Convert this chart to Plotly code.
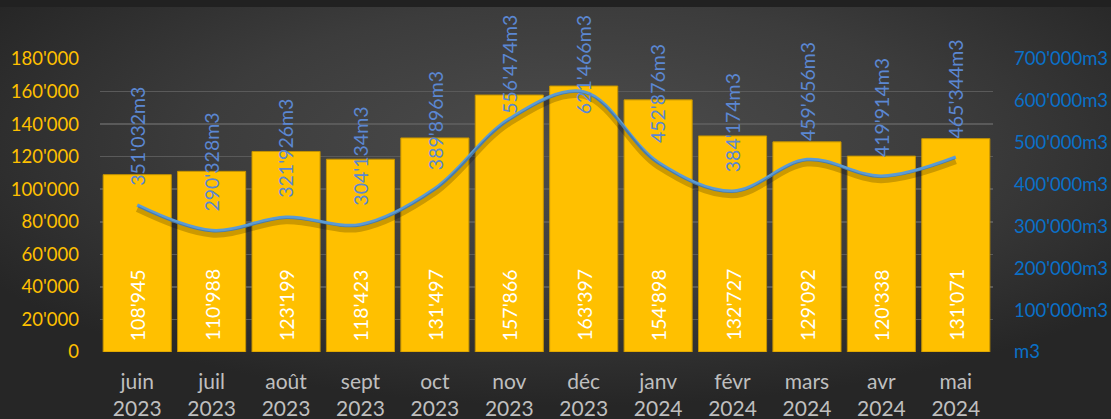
import base64
import plotly.graph_objects as go

months = ["juin<br>2023", "juil<br>2023", "août<br>2023", "sept<br>2023", "oct<br>2023", "nov<br>2023",
          "déc<br>2023", "janv<br>2024", "févr<br>2024", "mars<br>2024", "avr<br>2024", "mai<br>2024"]
bar_values = [108945, 110988, 123199, 118423, 131497, 157866, 163397, 154898, 132727, 129092, 120338, 131071]
line_values = [351032, 290328, 321926, 304134, 389896, 556474, 621466, 452876, 384174, 459656, 419914, 465344]

left_tickvals = [0, 20000, 40000, 60000, 80000, 100000, 120000, 140000, 160000, 180000]
left_ticktext = ["0", "20'000", "40'000", "60'000", "80'000", "100'000", "120'000", "140'000", "160'000", "180'000"]
right_tickvals = [0, 100000, 200000, 300000, 400000, 500000, 600000, 700000]
right_ticktext = ["m3", "100'000m3", "200'000m3", "300'000m3", "400'000m3", "500'000m3", "600'000m3", "700'000m3"]


def fmt(v):
    return f"{v:,}".replace(",", "'")


W, H = 1111, 419
ML, MR, MT, MB = 100, 118, 59, 67
PW, PH = W - ML - MR, H - MT - MB
Y2MAX = 700000
FONT = "Lato"
TOP_CLIP = 13          # chart area top (px) where Excel keeps labels inside
LABEL_LEN = 102        # approx rotated label length (px)
LABEL_GAP = 17

fig = go.Figure()

fig.add_trace(go.Bar(
    x=months, y=bar_values, marker=dict(color="#ffc000", line=dict(color="#c49300", width=1)),
    width=0.915, hoverinfo="skip", showlegend=False))

# line shadow (slightly shifted overlay axis)
shift = 4 / PH * Y2MAX
fig.add_trace(go.Scatter(
    x=months, y=line_values, yaxis="y3", mode="lines",
    line=dict(color="rgba(0,0,0,0.2)", width=6, shape="spline"),
    hoverinfo="skip", showlegend=False))
fig.add_trace(go.Scatter(
    x=months, y=line_values, yaxis="y2", mode="lines",
    line=dict(color="#5b9bd5", width=3.5, shape="spline"),
    hoverinfo="skip", showlegend=False))

annotations = []
for m, v in zip(months, bar_values):
    annotations.append(dict(x=m, y=0, xref="x", yref="y", text=fmt(v), textangle=-90, showarrow=False,
                            xanchor="center", yanchor="bottom", yshift=9,
                            font=dict(family=FONT, size=19.5, color="#ffffff")))
for m, v in zip(months, line_values):
    point_px = MT + PH * (1 - v / Y2MAX)
    common = dict(x=m, xref="x", text=fmt(v) + "m3", textangle=-90, showarrow=False, xanchor="center",
                  font=dict(family=FONT, size=19.5, color="#5b87d2"))
    if point_px - LABEL_GAP - LABEL_LEN < TOP_CLIP:
        annotations.append(dict(common, y=1 + (MT - TOP_CLIP) / PH, yref="paper", yanchor="top"))
    else:
        annotations.append(dict(common, y=v, yref="y2", yanchor="bottom", yshift=LABEL_GAP))

svg = (f"<svg xmlns='http://www.w3.org/2000/svg' width='{W}' height='{H}' viewBox='0 0 {W} {H}' preserveAspectRatio='none'>"
       "<defs><radialGradient id='g' cx='52%' cy='35%' r='62%'>"
       "<stop offset='0' stop-color='#4d4d4d'/><stop offset='0.55' stop-color='#3c3c3c'/><stop offset='1' stop-color='#262626'/>"
       "</radialGradient></defs>"
       f"<rect width='{W}' height='{H}' fill='url(#g)'/>"
       f"<rect width='{W}' height='7' fill='#212121'/></svg>")
src = "data:image/svg+xml;base64," + base64.b64encode(svg.encode()).decode()

fig.update_layout(
    width=W, height=H,
    margin=dict(l=ML, r=MR, t=MT, b=MB, pad=0, autoexpand=False),
    paper_bgcolor="#363636", plot_bgcolor="rgba(0,0,0,0)",
    font=dict(family=FONT),
    hovermode=False,
    images=[dict(source=src, xref="paper", yref="paper", x=-ML / PW, y=1 + MT / PH,
                 sizex=W / PW, sizey=H / PH, sizing="stretch", layer="below", xanchor="left", yanchor="top")],
    xaxis=dict(type="category", tickfont=dict(family=FONT, size=21, color="#bfbfbf"), showgrid=False,
               showline=False, zeroline=False, ticks="", ticklabelstandoff=15, automargin=False),
    yaxis=dict(range=[0, 180000], tickvals=left_tickvals, ticktext=left_ticktext,
               tickfont=dict(family=FONT, size=18.5, color="#ffc000"), gridcolor="#5a5a5a", gridwidth=1.5,
               zeroline=False, showline=False, ticks="", ticklabelstandoff=20, automargin=False),
    yaxis2=dict(range=[0, Y2MAX], overlaying="y", side="right", tickvals=right_tickvals, ticktext=right_ticktext,
                tickfont=dict(family=FONT, size=18.5, color="#0a70c8"), showgrid=False, zeroline=False,
                showline=False, ticks="", ticklabelstandoff=20, automargin=False),
    yaxis3=dict(range=[shift, Y2MAX + shift], overlaying="y", visible=False),
    annotations=annotations,
)

fig.write_html("out.html", config={"displayModeBar": False, "staticPlot": True},
               post_script="document.body.style.margin='0';document.body.style.overflow='hidden';")
